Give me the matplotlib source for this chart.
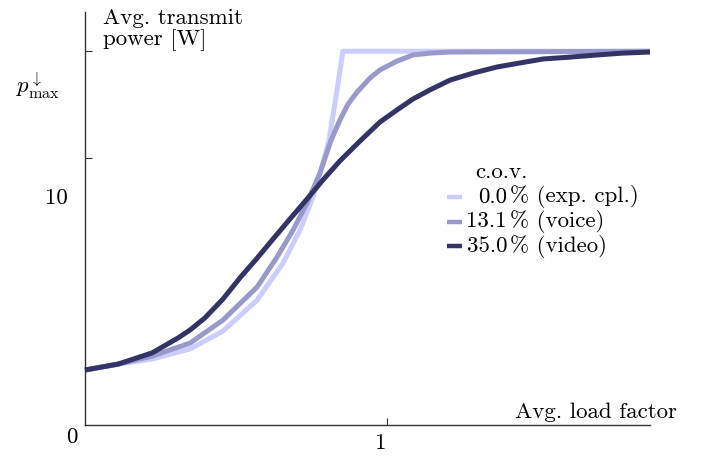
import matplotlib

matplotlib.use("Agg")
import matplotlib.pyplot as plt
from matplotlib.lines import Line2D

plt.rcParams["font.family"] = "cmr10"
plt.rcParams["mathtext.fontset"] = "cm"
plt.rcParams["axes.unicode_minus"] = False

W, H = 706, 459

# values (x: avg. load factor, y: avg. transmit power in W)
P_MAX = 14.0

x_cpl = [0, 0.109, 0.222, 0.348, 0.457, 0.570, 0.656, 0.712, 0.755, 0.788, 0.808,
         0.831, 0.854, 1.871]
y_cpl = [2.06, 2.28, 2.47, 2.85, 3.52, 4.68, 6.07, 7.30, 8.54, 9.81, 10.67,
         12.28, 14.0, 14.0]

x_voice = [0, 0.109, 0.222, 0.348, 0.457, 0.570, 0.636, 0.689, 0.735, 0.778, 0.815,
           0.844, 0.871, 0.901, 0.944, 0.977, 1.033, 1.086, 1.142, 1.209, 1.871]
y_voice = [2.06, 2.28, 2.58, 3.07, 3.93, 5.17, 6.29, 7.30, 8.31, 9.44, 10.67,
           11.42, 12.02, 12.47, 13.00, 13.30, 13.63, 13.86, 13.93, 13.97, 14.0]

x_video = [0, 0.109, 0.222, 0.308, 0.348, 0.397, 0.457, 0.513, 0.570, 0.623, 0.679,
           0.735, 0.788, 0.844, 0.911, 0.977, 1.033, 1.086, 1.142, 1.209, 1.285,
           1.364, 1.440, 1.517, 1.606, 1.695, 1.781, 1.871]
y_video = [2.06, 2.28, 2.70, 3.26, 3.56, 4.01, 4.72, 5.51, 6.25, 6.97, 7.72,
           8.46, 9.18, 9.89, 10.64, 11.35, 11.80, 12.21, 12.55, 12.92, 13.18,
           13.41, 13.56, 13.71, 13.78, 13.86, 13.93, 13.97]

series_numbers = ["0.0", "13.1", "35.0"]
series_names = ["(exp. cpl.)", "(voice)", "(video)"]
series_colors = ["#CCCCFF", "#9999CC", "#333366"]

FS = 16.5
AXIS_COLOR = "#333333"


def px(x, y):
    return x / W, 1 - y / H


def main() -> None:
    fig = plt.figure(figsize=(W / 100, H / 100), dpi=100)
    left, top = px(85, 12)
    right, bottom = px(650, 425)
    ax = fig.add_axes([left, bottom, right - left, top - bottom])

    for xs, ys, color in zip((x_cpl, x_voice, x_video), (y_cpl, y_voice, y_video), series_colors):
        ax.plot(xs, ys, color=color, linewidth=3.6, solid_capstyle="butt",
                solid_joinstyle="round", clip_on=False)

    ax.set_xlim(0, 1.871)
    ax.set_ylim(0, 15.47)
    for side in ("top", "right"):
        ax.spines[side].set_visible(False)
    for side in ("left", "bottom"):
        ax.spines[side].set_color(AXIS_COLOR)
        ax.spines[side].set_linewidth(1.0)
    ax.set_xticks([1])
    ax.set_yticks([10, P_MAX])
    ax.tick_params(direction="in", length=5, width=0.8, color=AXIS_COLOR,
                   labelbottom=False, labelleft=False)

    # tick labels (sit a bit below their ticks in the reference)
    fig.text(*px(72, 437), "0", fontsize=FS, ha="center", va="center")
    fig.text(*px(381, 443), "1", fontsize=FS, ha="center", va="center")
    fig.text(*px(56, 198), "10", fontsize=FS, ha="center", va="center")
    fig.text(*px(38, 86), r"$p^{\downarrow}_{\max}$", fontsize=FS, ha="center", va="center")

    # axis labels
    fig.text(*px(103, 30), "Avg. transmit\npower [W]", fontsize=FS, ha="left",
             va="center", linespacing=1.05)
    fig.text(*px(677, 412), "Avg. load factor", fontsize=FS, ha="right", va="center")

    # legend
    fig.text(*px(501, 172), "c.o.v.", fontsize=FS, ha="center", va="center")
    for i, (num, name, color) in enumerate(zip(series_numbers, series_names, series_colors)):
        yy = 197 + 24.5 * i
        x0, y0 = px(447, yy)
        x1, _ = px(462, yy)
        fig.add_artist(Line2D([x0, x1], [y0, y0], transform=fig.transFigure,
                              color=color, linewidth=3.2, solid_capstyle="butt"))
        fig.text(*px(507, yy), num, fontsize=FS, ha="right", va="center")
        fig.text(*px(510, yy), "% " + name, fontsize=FS, ha="left", va="center")

    fig.savefig("out.png", dpi=100)
    plt.close(fig)


if __name__ == "__main__":
    main()
